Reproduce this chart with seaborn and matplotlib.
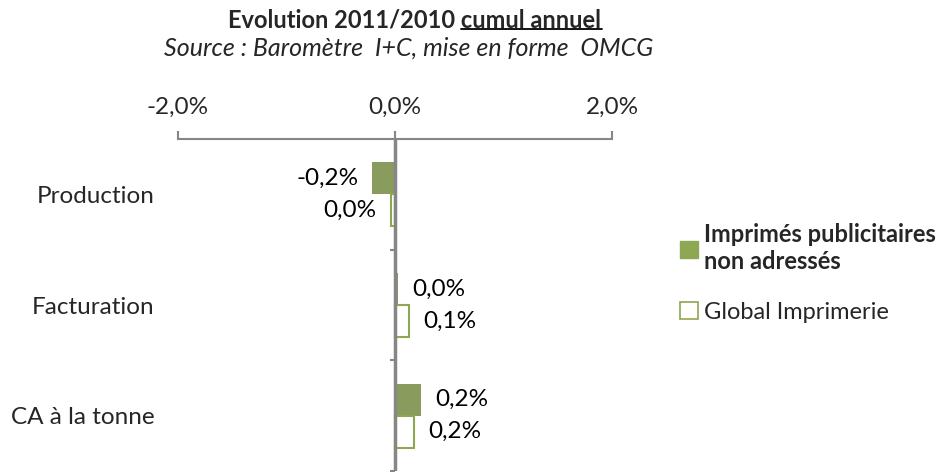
import matplotlib
matplotlib.use("Agg")
import matplotlib.pyplot as plt
from matplotlib.patches import Patch
from matplotlib.lines import Line2D
import seaborn as sns
import pandas as pd

# data (values in %)
categories = ["Production", "Facturation", "CA à la tonne"]
series = ["Imprimés publicitaires non adressés", "Global Imprimerie"]
ipna_values = [-0.21, 0.03, 0.24]
global_values = [-0.04, 0.13, 0.175]
x_ticks = [-2.0, 0.0, 2.0]

GREEN = "#8DA752"
GRAY = "#868686"
FS = 17.5


def fmt_pct(v):
    # french style percent, no "-0,0%"
    return "{:.1f}%".format(round(v, 1) + 0.0).replace(".", ",")


df = pd.DataFrame({
    "categorie": categories * 2,
    "serie": [series[0]] * len(categories) + [series[1]] * len(categories),
    "evolution": ipna_values + global_values,
})

sns.set_style("white")
plt.rcParams["font.family"] = ["Lato", "DejaVu Sans"]

fig = plt.figure(figsize=(9.44, 4.72), dpi=100)
ax = fig.add_axes([178 / 944, 1 / 472, 434 / 944, 332 / 472])

sns.barplot(data=df, x="evolution", y="categorie", hue="serie",
            order=categories, hue_order=series, palette=[GREEN, GREEN],
            width=0.577, errorbar=None, orient="h", legend=False,
            linewidth=0, ax=ax)

# second series is drawn hollow
for p in ax.containers[1]:
    p.set_facecolor("white")
    p.set_edgecolor(GREEN)
    p.set_linewidth(1.5)

for cont in ax.containers:
    ax.bar_label(cont, labels=[fmt_pct(v) for v in cont.datavalues],
                 padding=10, fontsize=FS, color="black")

ax.set_xlim(-2, 2)
ax.set_ylim(2.5, -0.5)

# value axis on top
ax.xaxis.tick_top()
ax.set_xticks(x_ticks)
ax.set_xticklabels([fmt_pct(t) for t in x_ticks])
ax.tick_params(axis="x", direction="out", length=6, width=1.5, color=GRAY,
               pad=9, labelsize=FS)
ax.tick_params(axis="y", length=0, pad=17, labelsize=FS)
ax.set_xlabel("")
ax.set_ylabel("")

for side in ["left", "right", "bottom"]:
    ax.spines[side].set_visible(False)
ax.spines["top"].set_color(GRAY)
ax.spines["top"].set_linewidth(1.5)

# category axis crossing at 0 with boundary ticks
ax.axvline(0, color=GRAY, lw=2.5, zorder=4)
ax.hlines([0.5, 1.5, 2.5], -0.05, 0, color=GRAY, lw=1.5, clip_on=False)

# titles
title = fig.text(415 / 944, 1 - 20 / 472, "Evolution 2011/2010 cumul annuel",
                 ha="center", va="center", fontsize=17, fontweight="bold")
fig.text(409 / 944, 1 - 48 / 472, "Source : Baromètre  I+C, mise en forme  OMCG",
         ha="center", va="center", fontsize=18, style="italic")

# underline "cumul annuel"
renderer = fig.canvas.get_renderer()
bb = title.get_window_extent(renderer)
part = fig.text(bb.x1 / 944, title.get_position()[1], "cumul annuel",
                ha="right", va="center", fontsize=17, fontweight="bold", alpha=0)
pb = part.get_window_extent(renderer)
y_line = (pb.y0 + 3) / 472
fig.add_artist(Line2D([pb.x0 / 944, pb.x1 / 944], [y_line, y_line],
                      color="black", lw=1.3))

handles = [Patch(facecolor=GREEN, edgecolor=GREEN),
           Patch(facecolor="white", edgecolor=GREEN, linewidth=1.2)]
labels = ["Imprimés publicitaires\nnon adressés", series[1]]
leg = fig.legend(handles, labels, loc="center left",
                 bbox_to_anchor=(659 / 944, 1 - 273 / 472), frameon=False,
                 handlelength=0.75, handleheight=0.75, handletextpad=0.25,
                 labelspacing=1.2, fontsize=17)
leg.get_texts()[0].set_fontweight("bold")

fig.savefig("out.png", dpi=100)
